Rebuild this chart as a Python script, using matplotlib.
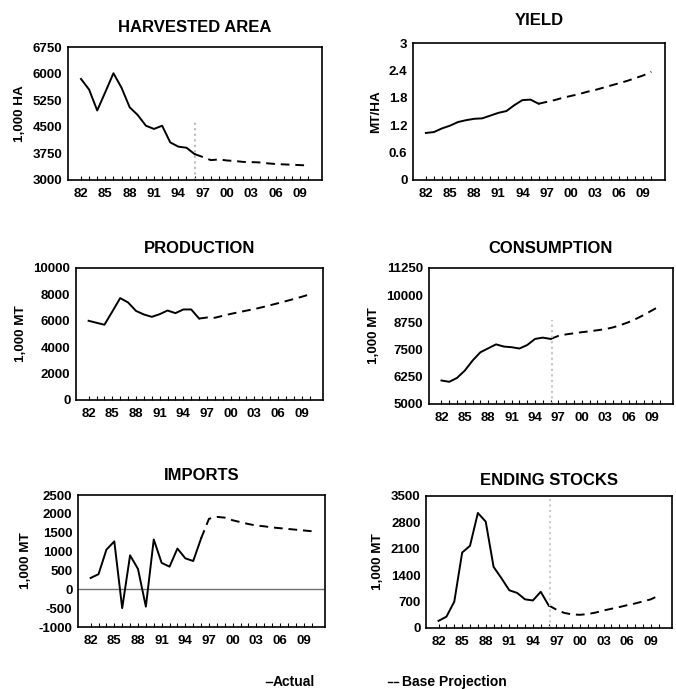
import numpy as np
import matplotlib
matplotlib.use("Agg")
import matplotlib.pyplot as plt
from matplotlib.lines import Line2D

plt.rcParams['font.family'] = ['Liberation Sans', 'DejaVu Sans']
plt.rcParams['font.weight'] = 'bold'

# marketing years, actual history then baseline projection (overlapping at 1996)
years_actual = list(range(1982, 1997))
years_proj = list(range(1996, 2011))

harvested_actual = [5850, 5550, 4960, 5480, 6010, 5600, 5050, 4830, 4530, 4440, 4530, 4060, 3940, 3910, 3730]
harvested_proj = [3730, 3650, 3560, 3580, 3550, 3535, 3510, 3505, 3495, 3470, 3450, 3440, 3430, 3420, 3410]

yield_actual = [1.03, 1.05, 1.13, 1.19, 1.27, 1.31, 1.34, 1.35, 1.41, 1.47, 1.51, 1.64, 1.75, 1.76, 1.67]
yield_proj = [1.67, 1.71, 1.75, 1.80, 1.84, 1.88, 1.93, 1.97, 2.02, 2.07, 2.12, 2.17, 2.23, 2.29, 2.37]

production_actual = [6000, 5850, 5700, 6700, 7720, 7390, 6750, 6480, 6300, 6500, 6780, 6580, 6860, 6860, 6170]
production_proj = [6170, 6250, 6230, 6380, 6520, 6650, 6770, 6890, 7030, 7180, 7330, 7490, 7650, 7820, 8000]

consumption_actual = [6080, 6020, 6200, 6540, 7000, 7380, 7560, 7740, 7640, 7610, 7550, 7710, 7990, 8050, 7990]
consumption_proj = [7990, 8130, 8200, 8250, 8300, 8340, 8390, 8440, 8520, 8630, 8760, 8920, 9100, 9300, 9500]

imports_actual = [300, 400, 1050, 1270, -500, 900, 540, -460, 1320, 700, 600, 1080, 820, 750, 1350]
imports_proj = [1350, 1870, 1920, 1900, 1830, 1780, 1730, 1690, 1670, 1640, 1620, 1600, 1580, 1560, 1540]

stocks_actual = [190, 300, 700, 2000, 2180, 3050, 2820, 1620, 1320, 1000, 930, 760, 730, 960, 600]
stocks_proj = [600, 485, 400, 360, 350, 370, 410, 465, 510, 555, 605, 650, 705, 760, 860]

tick_years = [1982, 1985, 1988, 1991, 1994, 1997, 2000, 2003, 2006, 2009]
tick_labels = ['82', '85', '88', '91', '94', '97', '00', '03', '06', '09']

W, H = 676, 689
fig = plt.figure(figsize=(W / 100, H / 100), dpi=100)
DASH = (0, (4.5, 3))


def panel(box, title, ylabel, actual, proj, yticks, ylabels, title_pad):
    l, t, r, b = box
    ax = fig.add_axes([l / W, 1 - b / H, (r - l) / W, (b - t) / H])
    ax.plot(years_actual, actual, color='black', lw=1.4)
    ax.plot(years_proj, proj, color='black', lw=1.4, linestyle=DASH)
    ax.set_xlim(1980.4, 2011.7)
    ax.set_ylim(yticks[0], yticks[-1])
    ax.set_yticks(yticks)
    ax.set_yticklabels(ylabels)
    ax.set_xticks(tick_years)
    ax.set_xticklabels(tick_labels)
    ax.set_xticks(range(1982, 2011), minor=True)
    ax.tick_params(axis='x', which='both', direction='in', length=3, width=0.8, pad=6,
                   labelsize=9.5)
    ax.tick_params(axis='y', length=0, pad=4, labelsize=9.5)
    for lab in ax.get_xticklabels() + ax.get_yticklabels():
        lab.set_fontweight('bold')
    for s in ax.spines.values():
        s.set_linewidth(1.2)
    ax.set_title(title, fontsize=12, fontweight='bold', pad=title_pad)
    ax.set_ylabel(ylabel, fontsize=9.7, fontweight='bold', labelpad=5)
    return ax


ax1 = panel((68, 47, 322, 180), 'HARVESTED AREA', '1,000 HA', harvested_actual, harvested_proj,
            [3000, 3750, 4500, 5250, 6000, 6750], ['3000', '3750', '4500', '5250', '6000', '6750'], 11)
ax1.axvline(1996, ymin=0, ymax=0.45, color='#bbbbbb', lw=1.5, linestyle=':')

ax2 = panel((413, 43, 665, 180), 'YIELD', 'MT/HA', yield_actual, yield_proj,
            [0, 0.6, 1.2, 1.8, 2.4, 3.0], ['0', '0.6', '1.2', '1.8', '2.4', '3'], 13)

ax3 = panel((76, 268, 323, 400), 'PRODUCTION', '1,000 MT', production_actual, production_proj,
            [0, 2000, 4000, 6000, 8000, 10000], ['0', '2000', '4000', '6000', '8000', '10000'], 11)

ax4 = panel((429, 268, 673, 404), 'CONSUMPTION', '1,000 MT', consumption_actual, consumption_proj,
            [5000, 6250, 7500, 8750, 10000, 11250], ['5000', '6250', '7500', '8750', '10000', '11250'], 11)
ax4.axvline(1996.2, ymin=0, ymax=0.62, color='#c4c4c4', lw=1.5, linestyle=':')

ax5 = panel((78, 495, 325, 627), 'IMPORTS', '1,000 MT', imports_actual, imports_proj,
            [-1000, -500, 0, 500, 1000, 1500, 2000, 2500],
            ['-1000', '-500', '0', '500', '1000', '1500', '2000', '2500'], 11)
ax5.axhline(0, color='#707070', lw=1.0, zorder=0)

ax6 = panel((426, 496, 672, 628), 'ENDING STOCKS', '1,000 MT', stocks_actual, stocks_proj,
            [0, 700, 1400, 2100, 2800, 3500], ['0', '700', '1400', '2100', '2800', '3500'], 8)
ax6.axvline(1996.2, color='#cccccc', lw=1.5, linestyle=':')

# key at the bottom: short solid stroke, two short dashes
ly = 1 - 682 / H
fig.add_artist(Line2D([266 / W, 272 / W], [ly, ly], color='black', lw=1.0))
fig.text(273 / W, ly, 'Actual', fontsize=10, fontweight='bold', va='center', ha='left')
fig.add_artist(Line2D([388 / W, 392 / W], [ly, ly], color='black', lw=1.0))
fig.add_artist(Line2D([394 / W, 398 / W], [ly, ly], color='black', lw=1.0))
fig.text(402 / W, ly, 'Base Projection', fontsize=10, fontweight='bold', va='center', ha='left')

fig.savefig('out.png', dpi=100)
